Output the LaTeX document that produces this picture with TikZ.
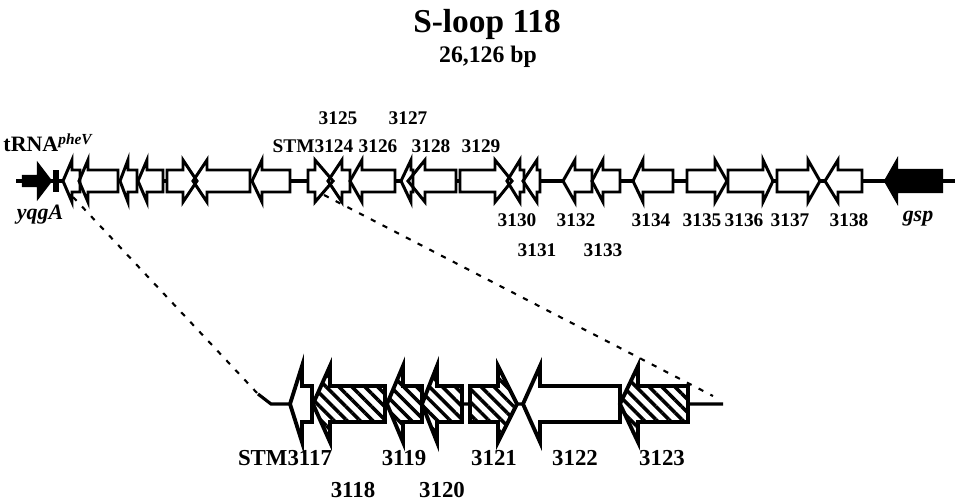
\documentclass[tikz,border=0pt]{standalone}
\usepackage{fontspec}
\setmainfont{Liberation Serif}
\usetikzlibrary{patterns.meta}

% one gene: style, tail x, head base x, tip x (row given by \gy, \gb, \gh)
\newcommand{\gene}[4]{\path[#1] (#2,\gy-\gb) -- (#3,\gy-\gb) -- (#3,\gy-\gh) -- (#4,\gy)
  -- (#3,\gy+\gh) -- (#3,\gy+\gb) -- (#2,\gy+\gb) -- cycle;}

\begin{document}
\begin{tikzpicture}[x=0.02cm, y=-0.02cm,
  font=\bfseries\fontsize{11}{12}\selectfont,
  lab/.style={anchor=base, inner sep=0pt},
  big/.style={lab, font=\bfseries\fontsize{13}{14}\selectfont},
  plain/.style={fill=white},
  striped/.style={fill=white, postaction={pattern={Lines[angle=-45, distance=5.2pt, line width=2pt]}}},
  dark/.style={fill=black, draw=black, line width=1.2pt, line join=miter},
  edge/.style={draw=black, line width=1.7pt, line join=miter},
  edgebig/.style={draw=black, line width=2.2pt, line join=miter},
  spine/.style={line width=2.4pt},
  zoomline/.style={line width=1.2pt, dash pattern=on 3pt off 4.5pt},
]
\useasboundingbox (0,0) rectangle (958,500);

\node[lab, font=\bfseries\fontsize{19}{20}\selectfont] (title) at (487,33) {S-loop 118};
\node[lab, font=\bfseries\fontsize{13.5}{14}\selectfont] (size) at (488,63) {26,126 bp};

% zoom lines
\coordinate (zl) at (73,197);
\coordinate (zlb) at (258,394);
\coordinate (zr) at (324,195);
\coordinate (zrb) at (713,396);
\draw[zoomline] (zl) -- (zlb);
\draw[zoomline] (zr) -- (zrb);

% whole island
\draw[spine] (16,181) -- (955,181);
\def\gy{181}\def\gb{11}\def\gh{21}
\def\toprow{80/72/63, 118/88/79, 137/128/120, 163/147/138, 167/183/197, 250/207/193, 290/262/252,
  308/315/333, 350/342/328, 395/362/350, 413/411/401, 456/425/408, 460/495/512, 524/520/507,
  540/537/523, 592/575/563, 620/603/592, 673/643/633, 687/715/727, 728/763/773, 777/808/820,
  862/838/825}
\foreach \xt/\xh/\xp in \toprow {\gene{plain}{\xt}{\xh}{\xp}}
\foreach \xt/\xh/\xp in \toprow {\gene{edge}{\xt}{\xh}{\xp}}
\gene{dark}{942}{897}{885}
{\def\gb{5}\def\gh{17}\gene{dark}{23}{38}{51}}
\fill (53,170) rectangle (59,192);

\node[lab, font=\bfseries\fontsize{12.5}{13}\selectfont] (trna) at (48,152) {tRNA\textsuperscript{\itshape pheV}};
\node[lab, font=\bfseries\itshape\fontsize{12.5}{13}\selectfont] (yqga) at (40,220) {yqgA};
\node[lab, font=\bfseries\itshape\fontsize{12.5}{13}\selectfont] (gsp) at (918,222) {gsp};
\node[lab] (n3125) at (338,125) {3125};
\node[lab] (n3127) at (408,125) {3127};
\node[lab] (n3124) at (313,153) {STM3124};
\node[lab] (n3126) at (378,153) {3126};
\node[lab] (n3128) at (431,153) {3128};
\node[lab] (n3129) at (481,153) {3129};
\node[lab] (n3130) at (517,227) {3130};
\node[lab] (n3132) at (576,227) {3132};
\node[lab] (n3134) at (651,227) {3134};
\node[lab] (n3135) at (702,227) {3135};
\node[lab] (n3136) at (744,227) {3136};
\node[lab] (n3137) at (790,227) {3137};
\node[lab] (n3138) at (849,227) {3138};
\node[lab] (n3131) at (537,256) {3131};
\node[lab] (n3133) at (603,256) {3133};

% zoomed part
\draw[spine, line width=1.8pt] (zlb) -- (271,404) -- (723,404);
\def\gy{404}\def\gb{18}\def\gh{38}
\def\zoomrow{plain/312/302/290, striped/385/330/313, striped/422/403/387, striped/462/437/422,
  striped/470/498/517, plain/620/540/523, striped/688/638/620}
\foreach \s/\xt/\xh/\xp in \zoomrow {\gene{\s}{\xt}{\xh}{\xp}}
\foreach \s/\xt/\xh/\xp in \zoomrow {\gene{edgebig}{\xt}{\xh}{\xp}}

\node[big] (n3117) at (285,465) {STM3117};
\node[big] (n3119) at (404,465) {3119};
\node[big] (n3121) at (494,465) {3121};
\node[big] (n3122) at (575,465) {3122};
\node[big] (n3123) at (662,465) {3123};
\node[big] (n3118) at (353,497) {3118};
\node[big] (n3120) at (442,497) {3120};
\end{tikzpicture}
\end{document}
